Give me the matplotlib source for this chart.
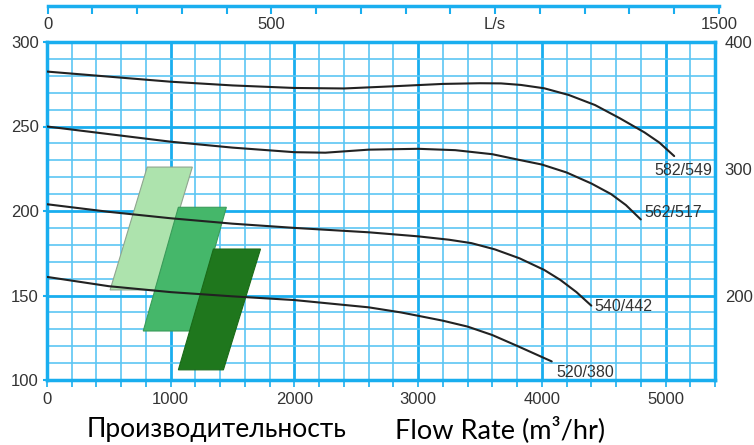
import matplotlib.pyplot as plt
from matplotlib.patches import Polygon
from matplotlib.ticker import MultipleLocator

# pump curves, flow m3/hr -> head
flow_582 = [0, 500, 1000, 1500, 2000, 2400, 2800, 3200, 3500, 3670, 3830, 4020, 4220, 4430, 4630, 4830, 4950, 5070]
head_582 = [282.5, 279.5, 276.5, 274.3, 272.8, 272.5, 273.8, 275.2, 275.6, 275.5, 274.6, 272.6, 268.6, 262.7, 254.9, 246.5, 240.5, 232.5]

flow_562 = [0, 500, 1000, 1500, 2000, 2250, 2600, 3000, 3300, 3600, 3800, 4000, 4200, 4400, 4560, 4680, 4800]
head_562 = [250, 245.5, 241, 237.5, 234.8, 234.5, 236.3, 236.8, 236, 233.6, 230.5, 227.5, 222.8, 216.3, 210, 203.5, 195]

flow_540 = [0, 500, 1000, 1500, 2000, 2600, 3000, 3250, 3430, 3620, 3820, 4020, 4150, 4280, 4400]
head_540 = [204, 199.5, 195.7, 192.5, 190, 187.4, 185, 183, 181, 177.3, 172, 165.1, 159.2, 152, 144]

flow_520 = [0, 500, 1000, 1500, 2000, 2600, 2860, 3000, 3200, 3400, 3600, 3800, 4080]
head_520 = [161, 155.5, 152, 149.5, 147.3, 143, 140, 138, 135.1, 131.6, 126.6, 120.2, 111]

curve_names = ['582/549', '562/517', '540/442', '520/380']
label_x = [4910, 4830, 4425, 4117]
label_y = [224, 199, 143.2, 104.7]

# operating zones (parallelograms)
zone_light = [(510, 153.3), (810, 226), (1175, 226), (875, 153.3)]
zone_mid = [(778, 129), (1062, 202.2), (1450, 202.2), (1167, 129)]
zone_dark = [(1062, 106), (1345, 177.5), (1726, 177.5), (1426, 106)]

top_ticks = list(range(0, 1600, 100))
top_labels = {0: '0', 500: '500', 1000: 'L/s', 1500: '1500'}

BLUE = '#19aeef'
BLUE_MINOR = '#5cc6f4'
TXT = '#333333'

plt.rcParams['font.family'] = 'Liberation Sans'

fig = plt.figure(figsize=(7.54, 4.45), dpi=100)
W, H = 754, 445
ax = fig.add_axes([47 / W, 1 - 380 / H, (715 - 47) / W, (380 - 42) / H])

ax.set_xlim(0, 5400)
ax.set_ylim(100, 300)
ax.xaxis.set_major_locator(MultipleLocator(1000))
ax.xaxis.set_minor_locator(MultipleLocator(200))
ax.yaxis.set_major_locator(MultipleLocator(50))
ax.yaxis.set_minor_locator(MultipleLocator(10))
ax.grid(which='major', color=BLUE, lw=2.0)
ax.grid(which='minor', color=BLUE_MINOR, lw=1.2)
ax.set_axisbelow(True)
for s in ax.spines.values():
    s.set_color(BLUE)
    s.set_linewidth(2.5)
ax.tick_params(which='both', axis='x', color=BLUE, length=5, width=1.2,
               labelsize=12, labelcolor=TXT, pad=4)
ax.tick_params(which='major', axis='y', color=BLUE, length=3, width=1.5,
               labelsize=12, labelcolor=TXT, pad=3)
ax.tick_params(which='minor', axis='y', length=0)

for pts, col, ec in [(zone_light, '#ade3ad', '#8fa58f'),
                     (zone_mid, '#45b76a', '#3a9c5a'),
                     (zone_dark, '#1f771d', '#1a6a18')]:
    ax.add_patch(Polygon(pts, closed=True, facecolor=col, edgecolor=ec, lw=0.8, zorder=2))

for fx, hy in [(flow_582, head_582), (flow_562, head_562),
               (flow_540, head_540), (flow_520, head_520)]:
    ax.plot(fx, hy, color='#222222', lw=1.5, zorder=3,
            solid_capstyle='round', solid_joinstyle='round')

for name, lx, ly in zip(curve_names, label_x, label_y):
    ax.text(lx, ly, name, fontsize=11.5, color=TXT, ha='left', va='center', zorder=4)

# right scale
ax2 = ax.twinx()
ax2.set_ylim(134, 400)
ax2.set_yticks([200, 300, 400])
ax2.tick_params(axis='y', length=0, labelsize=12, labelcolor=TXT, pad=7)
for s in ax2.spines.values():
    s.set_visible(False)

# top scale in L/s
axt = fig.add_axes([47.5 / W, 1 - 6 / H, (719 - 47.5) / W, 0.0001])
axt.set_xlim(0, 1500)
axt.set_yticks([])
axt.set_xticks(top_ticks, [top_labels.get(t, '') for t in top_ticks])
axt.patch.set_visible(False)
for k in ['top', 'left', 'right']:
    axt.spines[k].set_visible(False)
axt.spines['bottom'].set_color(BLUE)
axt.spines['bottom'].set_linewidth(2.5)
axt.tick_params(axis='x', color=BLUE, length=6, width=1.5, direction='out',
                labelsize=12, labelcolor=TXT, pad=2)

fig.text(87 / W, 1 - 430 / H, 'Производительность', fontsize=19,
         family='Lato', color='black', ha='left', va='center')
fig.text(395 / W, 1 - 430 / H, 'Flow Rate (m³/hr)', fontsize=19.5,
         family='Lato', color='black', ha='left', va='center')

fig.savefig('out.png', dpi=100)
